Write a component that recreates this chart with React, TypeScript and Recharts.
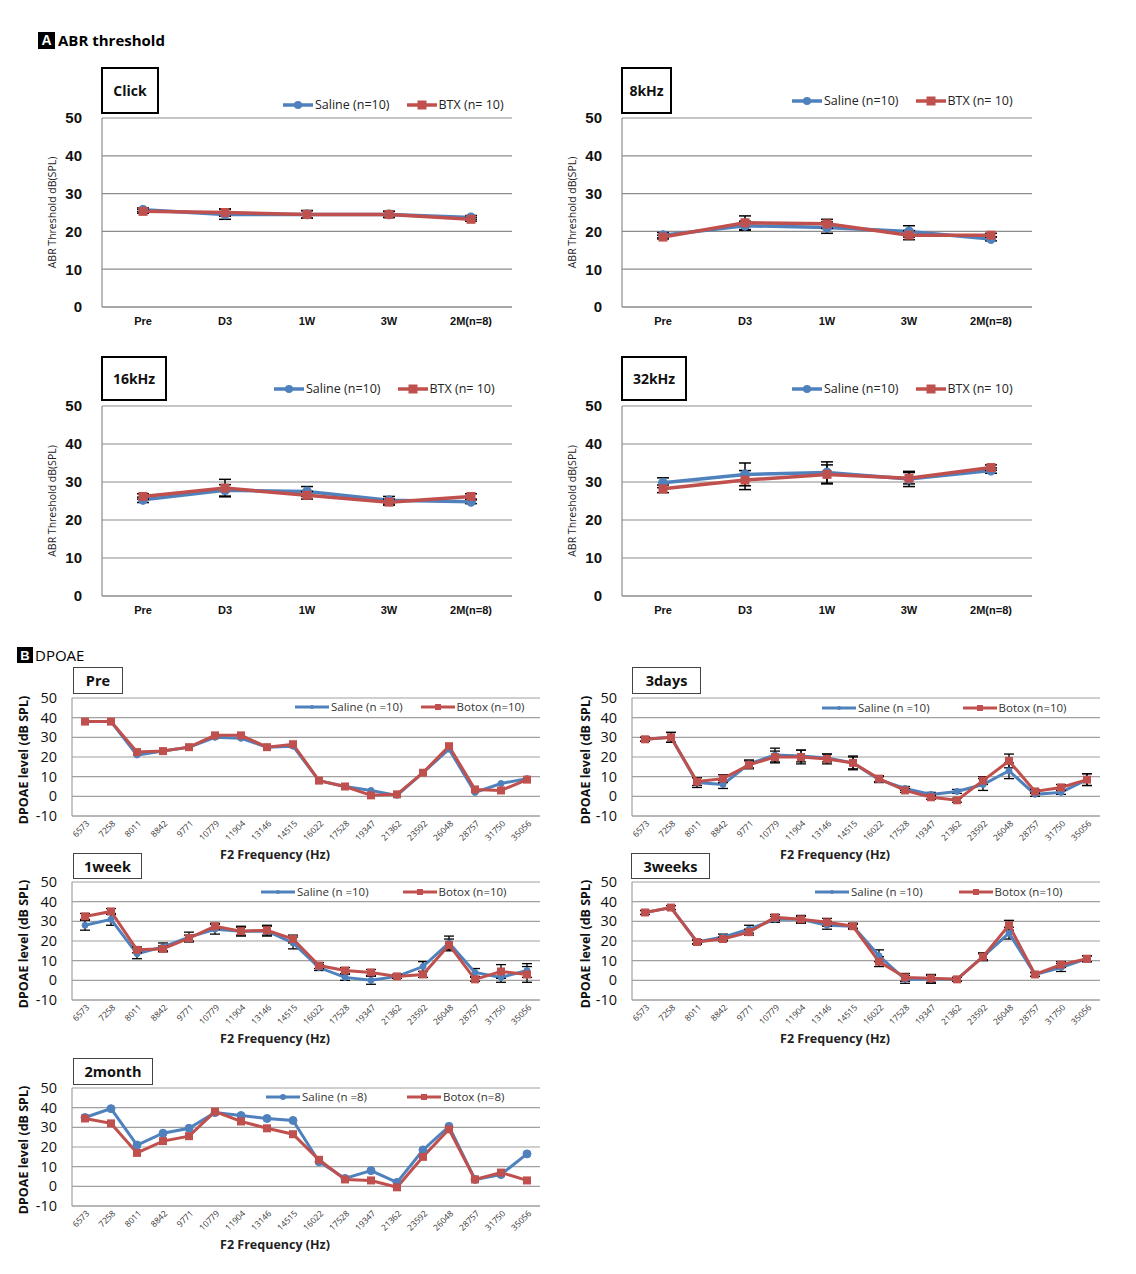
import React from 'react';
import { LineChart, Line, XAxis, YAxis, CartesianGrid, ErrorBar, Legend, Label } from 'recharts';

const BLUE = '#4F81BD';
const RED = '#C0504D';
const FONT = '"Open Sans", "Noto Sans", sans-serif';
const ARIAL = '"Liberation Sans", Arial, sans-serif';

// ---------- ABR data ----------
const abrCategories = ['Pre', 'D3', '1W', '3W', '2M(n=8)'];
const abrTicks = [0, 10, 20, 30, 40, 50];

const clickSaline = [25.7, 24.5, 24.5, 24.5, 23.7];
const clickSalineErr = [0.5, 1.3, 1.0, 0.8, 0.5];
const clickBtx = [25.3, 25.0, 24.5, 24.5, 23.2];
const clickBtxErr = [0.5, 1.0, 1.0, 0.8, 0.5];

const k8Saline = [19.0, 21.5, 21.0, 20.0, 18.0];
const k8SalineErr = [0.7, 1.2, 1.5, 1.5, 0.5];
const k8Btx = [18.5, 22.3, 22.0, 19.0, 19.0];
const k8BtxErr = [0.5, 1.8, 1.2, 1.2, 0.5];

const k16Saline = [25.3, 27.8, 27.5, 25.2, 24.8];
const k16SalineErr = [0.7, 1.5, 1.3, 1.0, 0.5];
const k16Btx = [26.2, 28.4, 26.5, 24.7, 26.2];
const k16BtxErr = [0.7, 2.3, 1.0, 0.8, 0.7];

const k32Saline = [29.8, 32.0, 32.5, 30.8, 33.0];
const k32SalineErr = [1.3, 3.0, 2.8, 2.0, 0.7];
const k32Btx = [28.2, 30.5, 32.0, 31.0, 33.8];
const k32BtxErr = [1.0, 2.5, 2.5, 1.5, 0.7];

// ---------- DPOAE data ----------
const f2Frequencies = ['6573', '7258', '8011', '8842', '9771', '10779', '11904', '13146', '14515', '16022', '17528', '19347', '21362', '23592', '26048', '28757', '31750', '35056'];
const dpTicks = [-10, 0, 10, 20, 30, 40, 50];

const preSaline = [38, 38, 21, 23, 25, 30, 29.5, 25, 25.5, 8, 5, 3, 0.5, 12, 24, 2, 6.5, 9];
const preBotox = [38, 38, 22.5, 23, 25, 31, 31, 25, 26.5, 8, 5, 0.5, 1, 12, 25.5, 3.5, 3, 8.5];

const d3Saline = [29, 30, 7, 6, 16.5, 21, 20.5, 19.5, 17, 8.5, 4, 1, 2.5, 6, 13, 1, 2, 8.5];
const d3SalineErr = [1, 2.5, 2.5, 2, 2, 3.5, 3, 2, 3, 1.5, 1, 1, 1, 3, 4, 1, 1, 3];
const d3Botox = [29, 30, 7.5, 9, 16, 20, 20, 19, 17, 9, 3, -0.5, -2, 8, 18, 2.5, 4.5, 8.5];
const d3BotoxErr = [1, 2.5, 2, 2, 2, 3, 3.5, 2.5, 3.5, 1.5, 1, 1, 1, 2, 3.5, 1, 1.5, 3];

const w1Saline = [28, 31, 13.5, 17, 22, 26, 25, 25, 19, 6.5, 1.5, 0, 2, 7, 19, 4, 1.5, 5];
const w1SalineErr = [2.5, 3, 2.5, 2, 2.5, 2.5, 2.5, 2.5, 3, 1.5, 1.5, 2, 1, 2.5, 3.5, 2, 2.5, 3.5];
const w1Botox = [32.5, 35, 15.5, 16, 21.5, 27.5, 25, 25.5, 21, 7.5, 5, 4, 2, 3, 18, 0.5, 4.5, 3];
const w1BotoxErr = [1.5, 1.5, 1.5, 1.5, 1.5, 1.5, 2, 2.5, 2, 1.5, 1.5, 1.5, 1, 1.5, 3, 1, 3.5, 4];

const w3Saline = [34.5, 37, 19.5, 22, 26, 31, 31, 28, 27.5, 12.5, 0.5, 0.5, 0.5, 12, 24, 3, 6.5, 11];
const w3SalineErr = [1, 1, 1, 1.5, 2, 1.5, 2, 2, 1.5, 3, 2, 2, 1, 2, 3, 1, 2, 1.5];
const w3Botox = [34.5, 37, 19.5, 21, 24.5, 32, 31, 29.5, 27.5, 9.5, 1.5, 1, 0.5, 12, 28, 3, 8, 11];
const w3BotoxErr = [1, 1, 1, 1, 1.5, 1.5, 1.5, 2, 1, 2.5, 2, 2, 1, 1.5, 2.5, 1, 1.5, 1.5];

const m2Saline = [35, 39.5, 21, 27, 29.5, 37.5, 36, 34.5, 33.5, 12.5, 4, 8, 2, 18.5, 30.5, 3.5, 6, 16.5];
const m2Botox = [34.5, 32, 17, 23, 25.5, 38, 33, 29.5, 26.5, 13.5, 3.5, 3, -0.5, 15, 29, 3.5, 7, 3];

// ---------- helpers ----------
const CircleDot = (r: number, color: string) => (props: any) => {
  const { cx, cy, key } = props;
  if (cx == null || cy == null) return <g key={key} />;
  return <circle key={key} cx={cx} cy={cy} r={r} fill={color} stroke={color} />;
};
const SquareDot = (s: number, color: string) => (props: any) => {
  const { cx, cy, key } = props;
  if (cx == null || cy == null) return <g key={key} />;
  return <rect key={key} x={cx - s / 2} y={cy - s / 2} width={s} height={s} fill={color} />;
};

function LegendRow({ items, gap, lineLen, fontSize, color, family }: any) {
  return (
    <div style={{ display: 'flex', alignItems: 'center', whiteSpace: 'nowrap', fontFamily: family, fontSize, color, lineHeight: '18px' }}>
      {items.map((it: any, i: number) => (
        <div key={i} style={{ display: 'flex', alignItems: 'center', marginLeft: i ? gap : 0 }}>
          <svg width={lineLen} height={14} style={{ display: 'block' }}>
            <line x1={0} y1={7} x2={lineLen} y2={7} stroke={it.color} strokeWidth={it.lw} />
            {it.shape === 'circle' ? (
              <circle cx={lineLen / 2} cy={7} r={it.size / 2} fill={it.color} />
            ) : (
              <rect x={lineLen / 2 - it.size / 2} y={7 - it.size / 2} width={it.size} height={it.size} fill={it.color} />
            )}
          </svg>
          <span style={{ marginLeft: 2 }}>{it.label}</span>
        </div>
      ))}
    </div>
  );
}

function TitleBox({ x, y, w, h, text, border, fontSize }: any) {
  return (
    <div
      style={{
        position: 'absolute', left: x, top: y, width: w, height: h, boxSizing: 'border-box',
        border, background: '#fff', display: 'flex', alignItems: 'center', justifyContent: 'center',
        fontFamily: FONT, fontWeight: 700, fontSize, color: '#111',
      }}
    >
      {text}
    </div>
  );
}

function AbrChart(p: any) {
  const rows = abrCategories.map((c, i) => ({ cat: c, saline: p.s[i], salineErr: p.se[i], btx: p.b[i], btxErr: p.be[i] }));
  const margin = { top: p.py - p.cy, left: 0, right: p.cx + p.W - (p.px + p.pw), bottom: 0 };
  const half = p.pw / abrCategories.length / 2;
  const lx = p.ylx - p.cx;
  const ly = p.py + p.ph / 2 - p.cy;
  return (
    <div style={{ position: 'absolute', left: p.cx, top: p.cy }}>
      <LineChart width={p.W} height={p.H} data={rows} margin={margin}>
        <CartesianGrid vertical={false} stroke="#8c8c8c" strokeWidth={1.2} />
        <XAxis
          dataKey="cat" interval={0} padding={{ left: half, right: half }}
          height={p.cy + p.H - (p.py + p.ph)} tickSize={0} tickMargin={10}
          axisLine={{ stroke: '#8c8c8c', strokeWidth: 1.2 }}
          tick={{ fontSize: 11, fontWeight: 700, fill: '#111', fontFamily: ARIAL }}
        />
        <YAxis
          type="number" domain={[0, 50]} ticks={abrTicks} interval={0} width={p.px - p.cx}
          tickSize={0} tickMargin={20} axisLine={{ stroke: '#8c8c8c', strokeWidth: 1.2 }}
          tick={{ fontSize: 15, fontWeight: 700, fill: '#111', fontFamily: ARIAL }}
        >
          <Label
            content={() => (
              <text x={lx} y={ly} transform={`rotate(-90, ${lx}, ${ly})`} textAnchor="middle" dominantBaseline="central" fontSize={10.5} fontFamily={FONT} fill="#222">
                ABR Threshold dB(SPL)
              </text>
            )}
          />
        </YAxis>
        <Legend
          layout="horizontal" verticalAlign="middle" align="center"
          wrapperStyle={{ left: p.legX - p.cx, top: p.legY - p.cy - 9, width: 'auto' }}
          content={() => (
            <LegendRow
              gap={17} lineLen={30} fontSize={12.5} color="#222" family={FONT}
              items={[
                { label: 'Saline (n=10)', color: BLUE, shape: 'circle', size: 8, lw: 3.5 },
                { label: 'BTX (n= 10)', color: RED, shape: 'square', size: 9, lw: 3.5 },
              ]}
            />
          )}
        />
        <Line dataKey="saline" stroke={BLUE} strokeWidth={3.5} dot={CircleDot(4.5, BLUE)} isAnimationActive={false} legendType="circle">
          <ErrorBar dataKey="salineErr" width={6} stroke="#000" strokeWidth={1.5} direction="y" />
        </Line>
        <Line dataKey="btx" stroke={RED} strokeWidth={3.5} dot={SquareDot(9, RED)} isAnimationActive={false} legendType="square">
          <ErrorBar dataKey="btxErr" width={6} stroke="#000" strokeWidth={1.5} direction="y" />
        </Line>
      </LineChart>
    </div>
  );
}

const RotTick = (props: any) => {
  const { x, y, payload } = props;
  return (
    <g transform={`translate(${x + 5},${y + 8})`}>
      <text x={0} y={0} textAnchor="end" transform="rotate(-45)" fontSize={8.5} fontFamily={FONT} fill="#333">
        {payload.value}
      </text>
    </g>
  );
};

function DpChart(p: any) {
  const rows = f2Frequencies.map((c, i) => ({
    f: c, saline: p.s[i], salineErr: p.se ? p.se[i] : 0, botox: p.b[i], botoxErr: p.be ? p.be[i] : 0,
  }));
  const pw = 468;
  const ph = 118;
  const margin = { top: p.py - p.cy, left: 0, right: p.cx + p.W - (p.px + pw), bottom: 0 };
  const half = pw / f2Frequencies.length / 2;
  const lx = p.ylx - p.cx;
  const ly = p.py + ph / 2 - p.cy + 3;
  return (
    <div style={{ position: 'absolute', left: p.cx, top: p.cy }}>
      <LineChart width={p.W} height={p.H} data={rows} margin={margin}>
        <CartesianGrid vertical={false} stroke="#a0a0a0" strokeWidth={1.2} />
        <XAxis
          dataKey="f" interval={0} padding={{ left: half, right: half }}
          height={p.cy + p.H - (p.py + ph)} tickSize={0} tickMargin={0}
          axisLine={{ stroke: '#a0a0a0', strokeWidth: 1.2 }} tick={<RotTick />}
        >
          <Label
            content={(lp: any) => {
              const vb = lp.viewBox || { x: p.px - p.cx, y: p.py + ph - p.cy, width: pw };
              return (
                <text x={vb.x + vb.width / 2 - 31} y={vb.y + 43} textAnchor="middle" fontSize={12.5} fontWeight={700} fontFamily={FONT} fill="#222">
                  F2 Frequency (Hz)
                </text>
              );
            }}
          />
        </XAxis>
        <YAxis
          type="number" domain={[-10, 50]} ticks={dpTicks} interval={0} width={p.px - p.cx}
          tickSize={0} tickMargin={15} axisLine={{ stroke: '#a0a0a0', strokeWidth: 1.2 }}
          tick={{ fontSize: 14.5, fill: '#111', fontFamily: FONT }}
        >
          <Label
            content={() => (
              <text x={lx} y={ly} transform={`rotate(-90, ${lx}, ${ly})`} textAnchor="middle" dominantBaseline="central" fontSize={12.5} fontWeight={700} fontFamily={FONT} fill="#111">
                DPOAE level (dB SPL)
              </text>
            )}
          />
        </YAxis>
        <Legend
          layout="horizontal" verticalAlign="middle" align="center"
          wrapperStyle={{ left: p.legX - p.cx, top: p.legY - p.cy - 9, width: 'auto' }}
          content={() => (
            <LegendRow
              gap={p.legGap} lineLen={34} fontSize={11.5} color="#333" family={FONT}
              items={[
                { label: p.sLabel, color: BLUE, shape: 'circle', size: p.bigDots ? 6 : 4, lw: 3 },
                { label: p.bLabel, color: RED, shape: 'square', size: 6, lw: 3 },
              ]}
            />
          )}
        />
        <Line dataKey="saline" stroke={BLUE} strokeWidth={3} dot={CircleDot(p.bigDots ? 4 : 3, BLUE)} isAnimationActive={false}>
          {p.se ? <ErrorBar dataKey="salineErr" width={5} stroke="#000" strokeWidth={1.3} direction="y" /> : null}
        </Line>
        <Line dataKey="botox" stroke={RED} strokeWidth={3} dot={SquareDot(8, RED)} isAnimationActive={false}>
          {p.be ? <ErrorBar dataKey="botoxErr" width={5} stroke="#000" strokeWidth={1.3} direction="y" /> : null}
        </Line>
      </LineChart>
    </div>
  );
}

export default function App() {
  const abrW = 510;
  const abrH = 280;
  const dpW = 555;
  return (
    <div style={{ position: 'absolute', left: 0, top: 0, width: 1136, height: 1274, background: '#fff', fontFamily: FONT }}>
      {/* Section A header */}
      <div style={{ position: 'absolute', left: 38, top: 30, display: 'flex', alignItems: 'center' }}>
        <div style={{ width: 17, height: 17, background: '#000', color: '#fff', fontFamily: ARIAL, fontWeight: 700, fontSize: 14, display: 'flex', alignItems: 'center', justifyContent: 'center' }}>A</div>
        <div style={{ marginLeft: 3, fontFamily: FONT, fontWeight: 700, fontSize: 15, color: '#000' }}>ABR threshold</div>
      </div>

      <AbrChart cx={20} cy={60} W={abrW} H={abrH} px={102} py={118} pw={410} ph={189} s={clickSaline} se={clickSalineErr} b={clickBtx} be={clickBtxErr} ylx={52} legX={283} legY={105} />
      <AbrChart cx={540} cy={60} W={abrW} H={abrH} px={622} py={118} pw={410} ph={189} s={k8Saline} se={k8SalineErr} b={k8Btx} be={k8BtxErr} ylx={572} legX={792} legY={101} />
      <AbrChart cx={20} cy={348} W={abrW} H={abrH} px={102} py={406} pw={410} ph={190} s={k16Saline} se={k16SalineErr} b={k16Btx} be={k16BtxErr} ylx={52} legX={274} legY={389} />
      <AbrChart cx={540} cy={348} W={abrW} H={abrH} px={622} py={406} pw={410} ph={190} s={k32Saline} se={k32SalineErr} b={k32Btx} be={k32BtxErr} ylx={572} legX={792} legY={389} />

      <TitleBox x={101} y={67} w={58} h={47} text="Click" border="2px solid #000" fontSize={14} />
      <TitleBox x={621} y={67} w={51} h={47} text="8kHz" border="2px solid #000" fontSize={14} />
      <TitleBox x={101} y={356} w={66} h={45} text="16kHz" border="2px solid #000" fontSize={14} />
      <TitleBox x={621} y={356} w={66} h={45} text="32kHz" border="2px solid #000" fontSize={14} />

      {/* Section B header */}
      <div style={{ position: 'absolute', left: 17, top: 645, display: 'flex', alignItems: 'center' }}>
        <div style={{ width: 16, height: 16, background: '#000', color: '#fff', fontFamily: ARIAL, fontWeight: 700, fontSize: 13, display: 'flex', alignItems: 'center', justifyContent: 'center' }}>B</div>
        <div style={{ marginLeft: 2, fontFamily: FONT, fontSize: 15, color: '#000' }}>DPOAE</div>
      </div>

      <DpChart cx={5} cy={660} W={dpW} H={202} px={72} py={698} s={preSaline} b={preBotox} ylx={23} legX={295} legY={707} legGap={18} sLabel="Saline (n =10)" bLabel="Botox (n=10)" />
      <DpChart cx={565} cy={660} W={dpW} H={202} px={632} py={698} s={d3Saline} se={d3SalineErr} b={d3Botox} be={d3BotoxErr} ylx={585} legX={822} legY={708} legGap={33} sLabel="Saline (n =10)" bLabel="Botox (n=10)" />
      <DpChart cx={5} cy={845} W={dpW} H={202} px={72} py={882} s={w1Saline} se={w1SalineErr} b={w1Botox} be={w1BotoxErr} ylx={23} legX={261} legY={892} legGap={34} sLabel="Saline (n =10)" bLabel="Botox (n=10)" />
      <DpChart cx={565} cy={845} W={dpW} H={202} px={632} py={882} s={w3Saline} se={w3SalineErr} b={w3Botox} be={w3BotoxErr} ylx={585} legX={815} legY={892} legGap={36} sLabel="Saline (n =10)" bLabel="Botox (n=10)" />
      <DpChart cx={5} cy={1050} W={dpW} H={205} px={72} py={1088} s={m2Saline} b={m2Botox} ylx={23} legX={266} legY={1097} legGap={40} bigDots sLabel="Saline (n =8)" bLabel="Botox (n=8)" />

      <TitleBox x={73} y={667} w={50} h={27} text="Pre" border="1.5px solid #444" fontSize={14.5} />
      <TitleBox x={632} y={667} w={69} h={27} text="3days" border="1.5px solid #444" fontSize={14.5} />
      <TitleBox x={73} y={853} w={69} h={26} text="1week" border="1.5px solid #444" fontSize={14.5} />
      <TitleBox x={631} y={853} w={79} h={26} text="3weeks" border="1.5px solid #444" fontSize={14.5} />
      <TitleBox x={73} y={1058} w={80} h={27} text="2month" border="1.5px solid #444" fontSize={14.5} />
    </div>
  );
}
